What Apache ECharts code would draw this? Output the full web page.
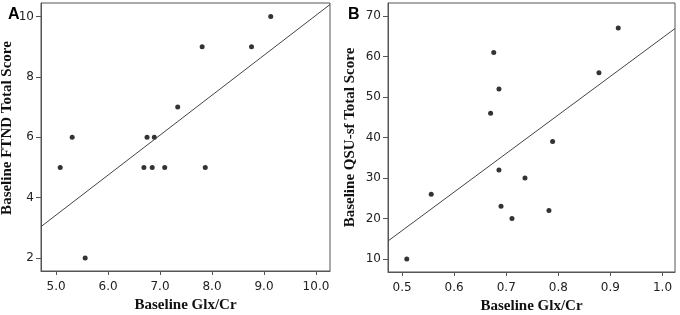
<!DOCTYPE html>
<html>
<head>
<meta charset="utf-8">
<script src="https://cdn.jsdelivr.net/npm/echarts@6/dist/echarts.min.js"></script>
<style>
html, body { margin: 0; padding: 0; background: #fff; }
#chart { width: 680px; height: 315px; }
</style>
</head>
<body>
<div id="chart"></div>
<script>
// panel A: FTND vs Glx/Cr
var glxA = [5.08, 5.31, 5.56, 6.69, 6.75, 6.85, 6.89, 7.09, 7.34, 7.81, 7.87, 8.76, 9.13];
var ftnd = [5, 6, 2, 5, 6, 5, 6, 5, 7, 9, 5, 9, 10];
var fitA = [[4.71, 3.04], [10.27, 10.40]];
var xTicksA = [5, 6, 7, 8, 9, 10];
var yTicksA = [2, 4, 6, 8, 10];

// panel B: QSU-sf vs Glx/Cr
var glxB = [0.509, 0.556, 0.670, 0.676, 0.686, 0.686, 0.690, 0.711, 0.736, 0.782, 0.789, 0.878, 0.915];
var qsu = [10, 26, 46, 61, 52, 32, 23, 20, 30, 22, 39, 56, 67];
var fitB = [[0.473, 14.45], [1.024, 66.9]];
var xTicksB = [0.5, 0.6, 0.7, 0.8, 0.9, 1.0];
var yTicksB = [10, 20, 30, 40, 50, 60, 70];

var pairs = function (xs, ys) {
    return xs.map(function (x, i) { return [x, ys[i]]; });
};

var frame = '#555';
var nameStyle = function (pad) {
    return {
        fontFamily: 'Liberation Serif',
        fontWeight: 'bold',
        fontSize: 15,
        color: '#111',
        padding: pad
    };
};

var makeX = function (idx, min, max, ticks, digits) {
    return {
        type: 'value', gridIndex: idx, min: min, max: max,
        name: 'Baseline Glx/Cr', nameLocation: 'middle', nameGap: 21,
        nameTextStyle: nameStyle(0),
        splitLine: { show: false },
        axisLine: { show: true, lineStyle: { color: frame } },
        axisTick: { show: true, length: 4, customValues: ticks, lineStyle: { color: frame } },
        axisLabel: {
            customValues: ticks, margin: 10,
            fontFamily: 'DejaVu Sans', fontSize: 12, color: '#222',
            formatter: function (v) { return v.toFixed(digits); }
        }
    };
};

var makeY = function (idx, min, max, ticks, name, gap, pad) {
    return {
        type: 'value', gridIndex: idx, min: min, max: max,
        name: name, nameLocation: 'middle', nameGap: gap,
        nameTextStyle: nameStyle(pad),
        splitLine: { show: false },
        axisLine: { show: true, lineStyle: { color: frame } },
        axisTick: { show: true, length: 5, customValues: ticks, lineStyle: { color: frame } },
        axisLabel: {
            customValues: ticks, margin: 7,
            fontFamily: 'DejaVu Sans', fontSize: 12, color: '#222'
        }
    };
};

var dot = { type: 'scatter', symbol: 'circle', symbolSize: 5, itemStyle: { color: '#000' }, silent: true };
var fit = { type: 'line', symbol: 'none', lineStyle: { color: '#444', width: 1 }, silent: true };

var chart = echarts.init(document.getElementById('chart'), null, { renderer: 'canvas' });
chart.setOption({
    animation: false,
    backgroundColor: '#fff',
    title: [
        { text: 'A', left: 3, top: 2, textStyle: { fontFamily: 'Liberation Sans', fontWeight: 'bold', fontSize: 16, color: '#000' } },
        { text: 'B', left: 343, top: 2, textStyle: { fontFamily: 'Liberation Sans', fontWeight: 'bold', fontSize: 16, color: '#000' } }
    ],
    grid: [
        { left: 41, top: 3, width: 289, height: 268, outerBoundsMode: 'none', show: true, borderColor: frame, borderWidth: 1 },
        { left: 388, top: 3, width: 287, height: 269, outerBoundsMode: 'none', show: true, borderColor: frame, borderWidth: 1 }
    ],
    xAxis: [
        makeX(0, 4.71, 10.27, xTicksA, 1),
        makeX(1, 0.473, 1.024, xTicksB, 1)
    ],
    yAxis: [
        makeY(0, 1.57, 10.45, yTicksA, 'Baseline FTND Total Score', 26, [0, 0, 0, 18]),
        makeY(1, 6.8, 73.2, yTicksB, 'Baseline QSU-sf Total Score', 30, 0)
    ],
    series: [
        Object.assign({}, fit, { xAxisIndex: 0, yAxisIndex: 0, data: fitA }),
        Object.assign({}, dot, { xAxisIndex: 0, yAxisIndex: 0, data: pairs(glxA, ftnd) }),
        Object.assign({}, fit, { xAxisIndex: 1, yAxisIndex: 1, data: fitB }),
        Object.assign({}, dot, { xAxisIndex: 1, yAxisIndex: 1, data: pairs(glxB, qsu) })
    ]
});
</script>
</body>
</html>
